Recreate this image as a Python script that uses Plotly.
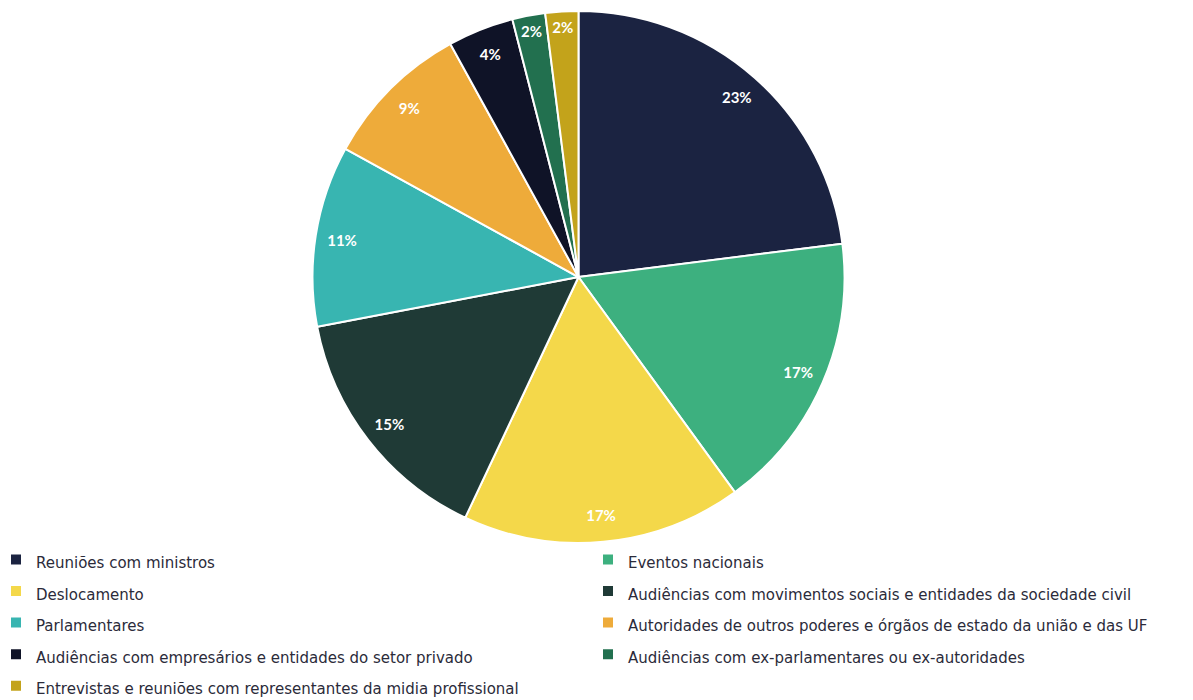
import plotly.graph_objects as go

labels = [
    "Reuniões com ministros",
    "Eventos nacionais",
    "Deslocamento",
    "Audiências com movimentos sociais e entidades da sociedade civil",
    "Parlamentares",
    "Autoridades de outros poderes e órgãos de estado da união e das UF",
    "Audiências com empresários e entidades do setor privado",
    "Audiências com ex-parlamentares ou ex-autoridades",
    "Entrevistas e reuniões com representantes da midia profissional",
]
values = [23, 17, 17, 15, 11, 9, 4, 2, 2]
colors = ["#1b2341", "#3db07f", "#f4d84a", "#1f3a36", "#38b5b1",
          "#eeab3a", "#0f1327", "#22704f", "#c3a31b"]

LEGEND_TEXT_PX = 15
legend_labels = [f'<span style="font-size:{LEGEND_TEXT_PX}px">{l}</span>' for l in labels]

domain = dict(x=[0.2548, 0.7016], y=[0.2357, 0.9957])

fig = go.Figure(go.Pie(
    labels=legend_labels,
    values=values,
    sort=False,
    direction="clockwise",
    rotation=0,
    marker=dict(colors=colors, line=dict(color="white", width=2)),
    textinfo="none",
    hovertemplate="%{label}: %{value}%<extra></extra>",
    domain=domain,
))

fig.add_trace(go.Pie(
    labels=legend_labels,
    values=values,
    sort=False,
    direction="clockwise",
    rotation=0,
    hole=0.8,
    marker=dict(colors=["rgba(0,0,0,0)"] * len(values), line=dict(width=0)),
    texttemplate="<b>%{value}%</b>",
    textposition="inside",
    insidetextorientation="horizontal",
    textfont=dict(color="white", size=15, family="Lato"),
    hoverinfo="skip",
    showlegend=False,
    domain=domain,
))

fig.update_layout(
    width=1193, height=700,
    margin=dict(l=0, r=0, t=0, b=0, autoexpand=False),
    paper_bgcolor="white",
    plot_bgcolor="white",
    font=dict(family="DejaVu Sans", color="#2b2b3a"),
    showlegend=True,
    legend=dict(
        orientation="h",
        x=0, y=0.242, xanchor="left", yanchor="top",
        entrywidth=559, entrywidthmode="pixels",
        indentation=-12,
        bgcolor="rgba(0,0,0,0)",
        font=dict(size=22, family="DejaVu Sans", color="#2b2b3a"),
        traceorder="normal",
        itemclick=False,
        itemdoubleclick=False,
    ),
)

fig.write_html("out.html")
